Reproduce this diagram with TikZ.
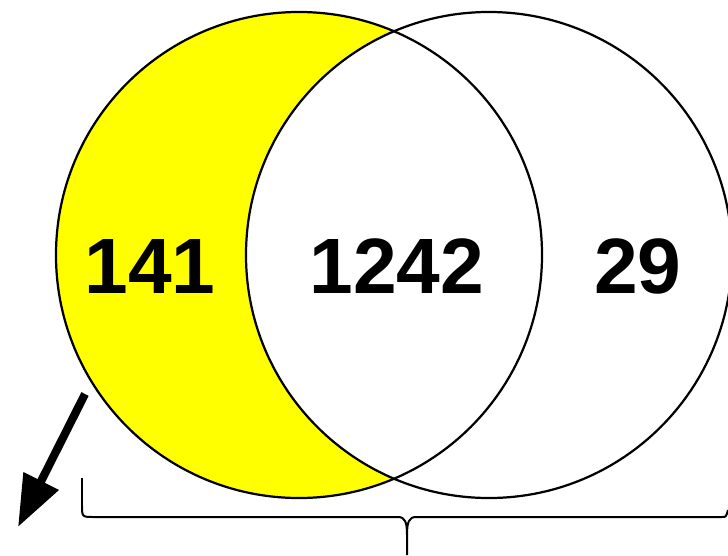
\documentclass[tikz,border=0pt]{standalone}
\usepackage{fontspec}
\setmainfont{Liberation Sans}
\usetikzlibrary{arrows.meta}
\definecolor{venny}{HTML}{FFFF00}
\tikzset{cnum/.style={font=\fontsize{67}{67}\selectfont\bfseries, inner sep=0pt},
         ring/.style={line width=1.9pt, black},
         brc/.style={line width=1.7pt, black},
         arr/.style={-{Triangle[length=44pt,width=32pt]}, line width=7pt}}
\begin{document}
\begin{tikzpicture}[x=0.03cm,y=-0.03cm]
\useasboundingbox (0,0) rectangle (728,555);
% sets
\coordinate (lc) at (299,255);
\coordinate (rc) at (489,255);
\fill[venny] (lc) circle[radius=7.29cm];
\fill[white] (rc) circle[radius=7.29cm];
\draw[ring] (lc) circle[radius=7.29cm];
\draw[ring] (rc) circle[radius=7.29cm];
% counts
\node[cnum] (only1) at (150,266) {141};
\node[cnum] (both) at (397,266) {1242};
\node[cnum] (only2) at (638,266) {29};
% arrow out of the yellow part
\coordinate (a0) at (85,394);
\coordinate (a1) at (18,527);
\draw[arr] (a0) -- (a1);
% brace under both sets
\draw[brc] (82,478) -- (82,505) .. controls (82,517) .. (94,517) -- (398,517)
  .. controls (405,517) and (407,522) .. (407,535) -- (407,555);
\draw[brc] (407,535) .. controls (407,522) and (409,517) .. (416,517) -- (722,517)
  .. controls (726,517) .. (728,510);
\end{tikzpicture}
\end{document}
